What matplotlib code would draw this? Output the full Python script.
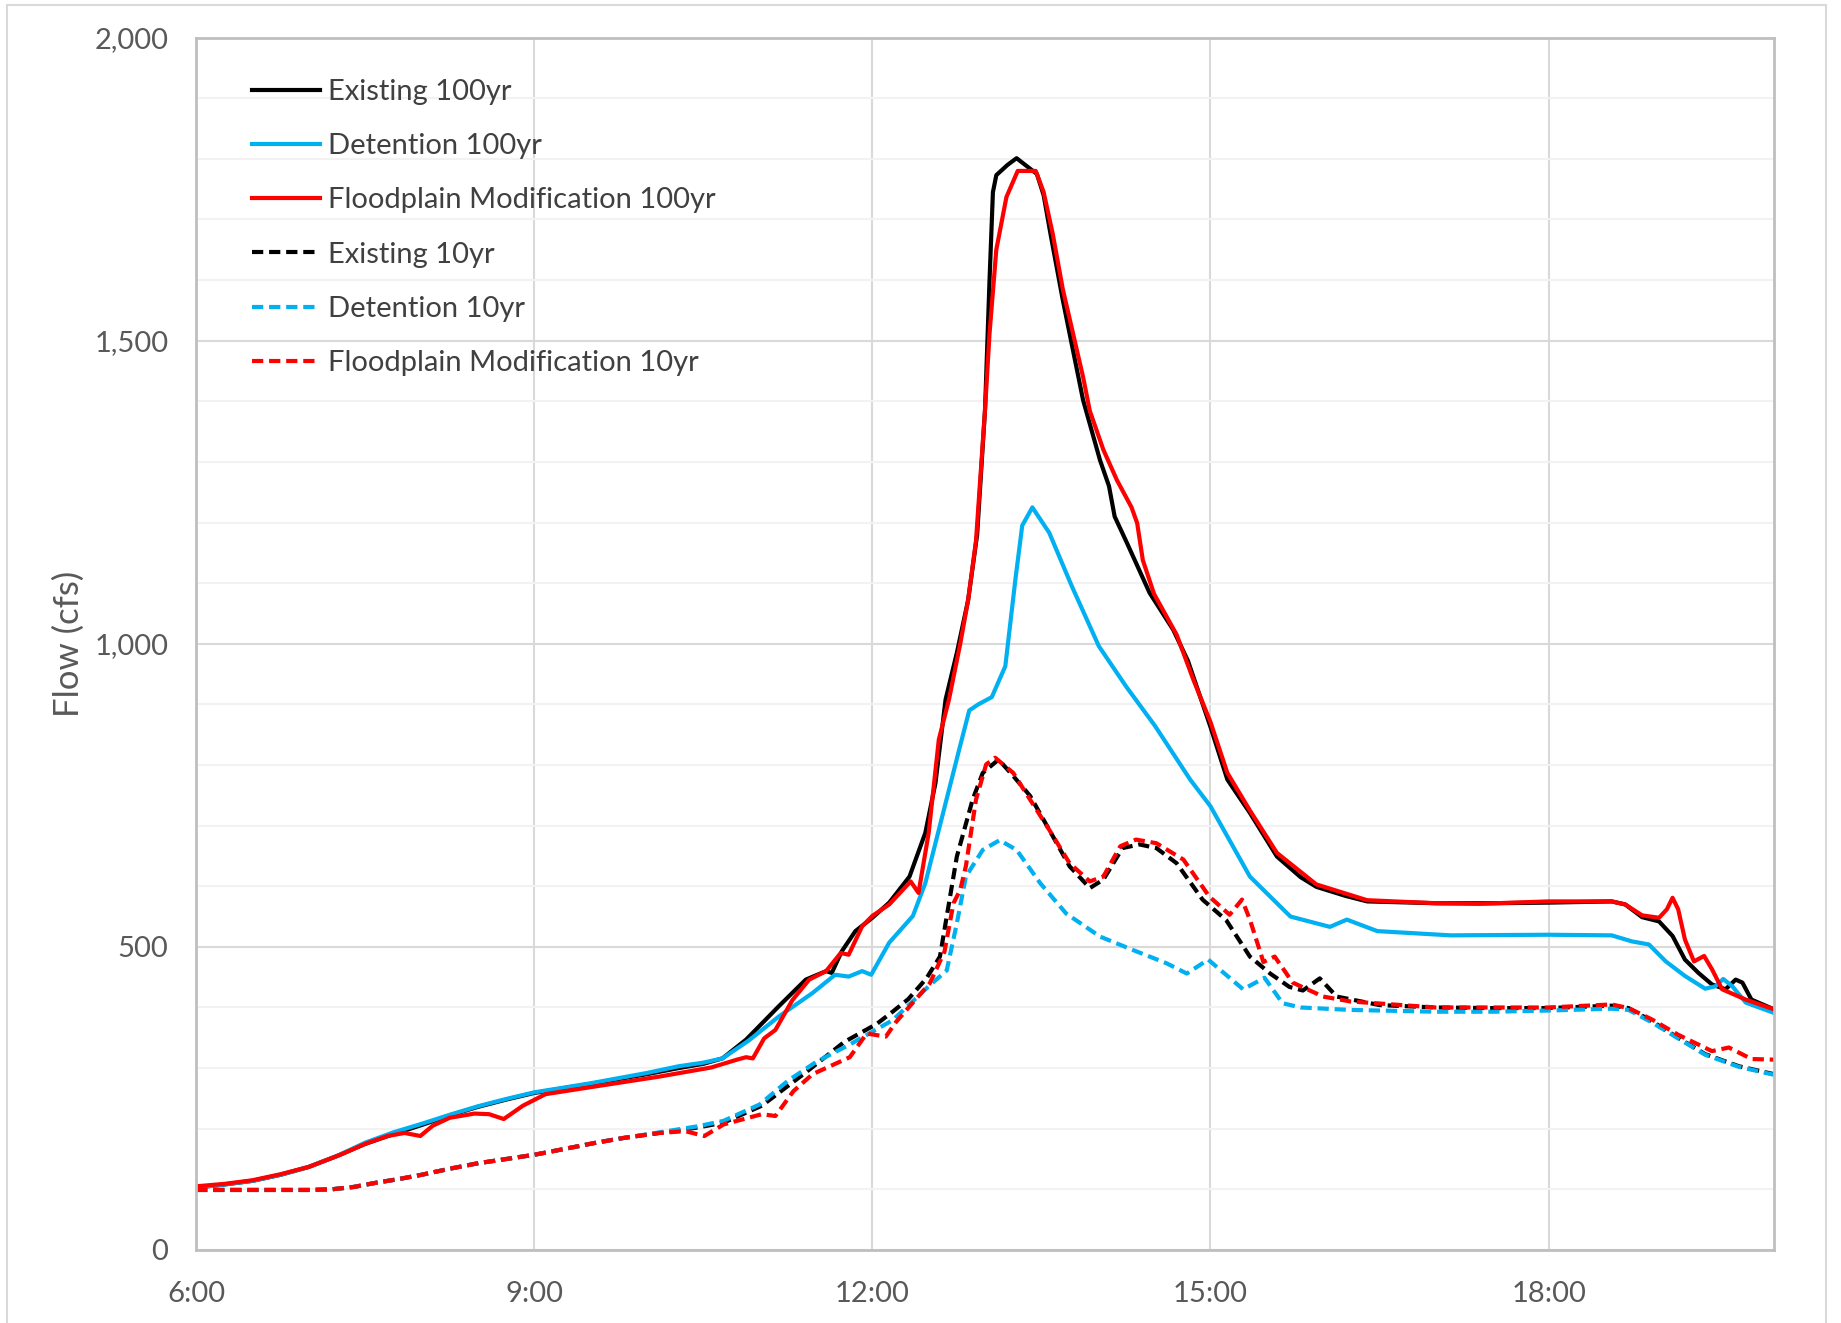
import matplotlib.pyplot as plt
from matplotlib.ticker import FuncFormatter, MultipleLocator
from matplotlib.patches import Rectangle

# hours of the day, flow in cfs
ex100_t = [6.0, 6.25, 6.5, 6.75, 7.0, 7.25, 7.5, 7.75, 8.0, 8.25, 8.5, 8.75, 9.0, 9.5, 10.0, 10.28,
           10.5, 10.67, 10.88, 11.17, 11.41, 11.59, 11.64, 11.73, 11.85, 12.0, 12.15, 12.33, 12.47,
           12.56, 12.65, 12.75, 12.85, 12.93, 13.0, 13.04, 13.07, 13.1, 13.2, 13.28, 13.37, 13.46,
           13.52, 13.58, 13.69, 13.87, 14.02, 14.1, 14.15, 14.26, 14.46, 14.67, 14.8, 15.0, 15.15,
           15.35, 15.59, 15.8, 15.94, 16.2, 16.39, 17.0, 17.5, 18.0, 18.56, 18.68, 18.83, 18.98,
           19.1, 19.21, 19.33, 19.45, 19.57, 19.66, 19.72, 19.8, 20.0]
ex100_q = [103, 108, 114, 124, 137, 155, 175, 191, 206, 222, 236, 248, 259, 274, 290, 300,
           307, 316, 347, 402, 446, 460, 457, 493, 526, 548, 573, 616, 688,
           770, 908, 985, 1072, 1180, 1386, 1600, 1745, 1773, 1790, 1801, 1788, 1775,
           1740, 1677, 1567, 1402, 1303, 1260, 1210, 1166, 1084, 1023, 972, 863, 776,
           721, 649, 615, 599, 584, 575, 572, 572, 573, 575, 570, 549, 542,
           518, 479, 457, 438, 430, 446, 441, 413, 397]

det100_t = [6.0, 6.25, 6.5, 6.75, 7.0, 7.25, 7.5, 7.75, 8.0, 8.25, 8.5, 8.75, 9.0, 9.5, 10.0, 10.28,
            10.5, 10.67, 10.9, 11.17, 11.47, 11.67, 11.79, 11.91, 11.99, 12.15, 12.36, 12.47, 12.62,
            12.77, 12.86, 12.94, 13.06, 13.18, 13.27, 13.33, 13.42, 13.57, 13.77, 14.01, 14.25,
            14.51, 14.82, 15.0, 15.35, 15.71, 16.06, 16.21, 16.48, 17.13, 18.0, 18.56, 18.74,
            18.89, 19.04, 19.21, 19.39, 19.48, 19.55, 19.63, 19.75, 20.0]
det100_q = [103, 108, 114, 124, 137, 155, 177, 194, 208, 223, 237, 249, 260, 275, 292, 303,
            309, 316, 345, 385, 424, 454, 451, 460, 454, 507, 551, 605, 715,
            825, 890, 900, 912, 963, 1107, 1195, 1225, 1183, 1095, 996, 930,
            864, 776, 732, 616, 550, 533, 545, 526, 519, 520, 519, 509,
            504, 476, 452, 431, 435, 447, 435, 408, 391]

fm100_t = [6.0, 6.25, 6.5, 6.75, 7.0, 7.28, 7.5, 7.7, 7.85, 7.99, 8.1, 8.25, 8.47, 8.6, 8.73, 8.9,
           9.1, 9.55, 10.11, 10.57, 10.8, 10.88, 10.94, 11.04, 11.14, 11.29, 11.44, 11.59, 11.72,
           11.79, 11.91, 12.0, 12.15, 12.34, 12.41, 12.5, 12.59, 12.68, 12.78, 12.85, 12.92, 13.0,
           13.04, 13.1, 13.19, 13.29, 13.45, 13.52, 13.6, 13.69, 13.87, 13.93, 14.05, 14.17, 14.3,
           14.35, 14.4, 14.5, 14.7, 14.85, 15.0, 15.15, 15.35, 15.59, 15.94, 16.39, 17.0, 17.38,
           18.0, 18.56, 18.68, 18.83, 18.98, 19.05, 19.1, 19.15, 19.21, 19.29, 19.38, 19.45,
           19.54, 19.75, 20.0]
fm100_q = [105, 109, 115, 125, 137, 157, 175, 188, 193, 188, 205, 218, 225, 224, 216, 238,
           257, 270, 286, 301, 314, 318, 316, 349, 363, 412, 446, 460, 490,
           487, 534, 551, 570, 608, 589, 688, 842, 908, 1000, 1072, 1170, 1386,
           1512, 1650, 1737, 1780, 1780, 1745, 1677, 1585, 1440, 1384, 1320, 1270, 1225,
           1199, 1138, 1082, 1015, 940, 871, 787, 725, 655, 603, 577, 572, 571,
           575, 575, 570, 552, 548, 562, 581, 562, 512, 476, 485, 463,
           430, 413, 397]

ex10_t = [6.0, 6.5, 7.0, 7.2, 7.4, 7.6, 7.8, 8.0, 8.25, 8.5, 8.75, 9.0, 9.25, 9.55, 9.8, 10.11,
          10.45, 10.68, 11.02, 11.41, 11.75, 12.04, 12.18, 12.32, 12.48, 12.6, 12.66, 12.75,
          12.89, 12.98, 13.12, 13.25, 13.4, 13.57, 13.75, 13.93, 14.05, 14.22, 14.37, 14.52,
          14.7, 14.93, 15.14, 15.35, 15.53, 15.7, 15.82, 15.97, 16.12, 16.5, 17.0, 17.5, 18.0,
          18.56, 18.71, 18.92, 19.15, 19.39, 19.69, 20.0]
ex10_q = [99, 99, 99, 100, 104, 111, 117, 124, 134, 143, 150, 157, 166, 177, 185, 193,
          202, 210, 238, 293, 343, 373, 393, 414, 448, 484, 550, 649,
          743, 787, 809, 782, 749, 693, 633, 597, 611, 663, 669, 663,
          638, 578, 544, 484, 456, 434, 428, 448, 418, 404, 400, 399, 399,
          403, 399, 377, 350, 323, 303, 290]

det10_t = [6.0, 6.5, 7.0, 7.2, 7.4, 7.6, 7.8, 8.0, 8.25, 8.5, 8.75, 9.0, 9.25, 9.55, 9.8, 10.11,
           10.45, 10.68, 11.0, 11.25, 11.5, 11.81, 12.18, 12.38, 12.5, 12.66, 12.75, 12.83,
           12.98, 13.13, 13.28, 13.49, 13.72, 14.02, 14.31, 14.61, 14.79, 14.98, 15.1, 15.29,
           15.48, 15.64, 15.8, 16.24, 17.0, 17.5, 18.0, 18.56, 18.71, 18.92, 19.15, 19.39,
           19.69, 20.0]
det10_q = [99, 99, 99, 100, 104, 111, 117, 124, 134, 143, 150, 157, 166, 177, 185, 194,
           204, 213, 240, 279, 310, 340, 379, 414, 435, 461, 539, 616,
           660, 676, 660, 605, 555, 517, 495, 473, 456, 479, 460, 430,
           449, 407, 400, 396, 393, 393, 395, 398, 396, 375, 349, 322,
           302, 289]

fm10_t = [6.0, 6.5, 7.0, 7.2, 7.4, 7.6, 7.8, 8.0, 8.25, 8.5, 8.75, 9.0, 9.25, 9.55, 9.8, 10.11,
          10.34, 10.51, 10.68, 11.02, 11.14, 11.3, 11.47, 11.8, 11.95, 12.12, 12.21, 12.51,
          12.64, 12.72, 12.78, 12.83, 12.92, 13.01, 13.09, 13.25, 13.57, 13.75, 13.93, 14.05,
          14.2, 14.34, 14.52, 14.76, 14.99, 15.17, 15.28, 15.35, 15.47, 15.57, 15.73, 16.0,
          16.24, 17.0, 18.0, 18.56, 18.71, 18.92, 19.15, 19.45, 19.6, 19.8, 20.0]
fm10_q = [99, 99, 99, 100, 104, 111, 117, 124, 134, 143, 150, 157, 166, 177, 185, 193,
          196, 188, 207, 224, 221, 262, 290, 318, 357, 352, 376, 440,
          492, 572, 594, 633, 743, 801, 812, 787, 693, 638, 608, 616,
          666, 677, 671, 644, 583, 553, 578, 545, 475, 484, 441, 418,
          410, 400, 400, 405, 399, 380, 355, 328, 334, 315, 314]

labels = ['Existing 100yr', 'Detention 100yr', 'Floodplain Modification 100yr',
          'Existing 10yr', 'Detention 10yr', 'Floodplain Modification 10yr']
tick_hours = [6, 9, 12, 15, 18]
tick_labels = ['6:00', '9:00', '12:00', '15:00', '18:00']

BLACK = '#000000'
BLUE = '#00B0F0'
RED = '#FF0000'

plt.rcParams['font.family'] = ['Lato', 'DejaVu Sans']

fig = plt.figure(figsize=(18.41, 13.23), dpi=100)
ax = fig.add_axes([0.1065, 0.0552, 0.8571, 0.9164])

lw = 3.0
dash = (2.7, 1.4)
ax.plot(ex100_t, ex100_q, color=BLACK, lw=lw, label=labels[0])
ax.plot(det100_t, det100_q, color=BLUE, lw=lw, label=labels[1])
ax.plot(fm100_t, fm100_q, color=RED, lw=lw, label=labels[2])
ax.plot(ex10_t, ex10_q, color=BLACK, lw=lw, dashes=dash, label=labels[3])
ax.plot(det10_t, det10_q, color=BLUE, lw=lw, dashes=dash, label=labels[4])
ax.plot(fm10_t, fm10_q, color=RED, lw=lw, dashes=dash, label=labels[5])

ax.set_xlim(6, 20)
ax.set_ylim(0, 2000)
ax.set_xticks(tick_hours)
ax.set_xticklabels(tick_labels)
ax.yaxis.set_major_locator(MultipleLocator(500))
ax.yaxis.set_minor_locator(MultipleLocator(100))
ax.yaxis.set_major_formatter(FuncFormatter(lambda v, p: f'{v:,.0f}'))

ax.grid(which='major', color='#D9D9D9', lw=1.5)
ax.grid(which='minor', axis='y', color='#F2F2F2', lw=1.5)
ax.set_axisbelow(True)
ax.tick_params(which='both', length=0, labelsize=21, colors='#595959')
ax.tick_params(axis='x', pad=22)
ax.tick_params(axis='y', pad=20)
for s in ax.spines.values():
    s.set_color('#BFBFBF')
    s.set_linewidth(2)

ax.set_ylabel('Flow (cfs)', fontsize=25, color='#595959', labelpad=7)

ax.legend(loc='upper left', bbox_to_anchor=(0.0355, 0.966), frameon=False, fontsize=21,
          handlelength=2.33, handletextpad=0.28, labelspacing=0.97, borderpad=0,
          borderaxespad=0, labelcolor='#404040')

# chart area border
fig.patches.append(Rectangle((0.004, -0.01), 0.988, 1.006, transform=fig.transFigure,
                             fill=False, edgecolor='#D9D9D9', lw=1.5))

fig.savefig('out.png', dpi=100)
